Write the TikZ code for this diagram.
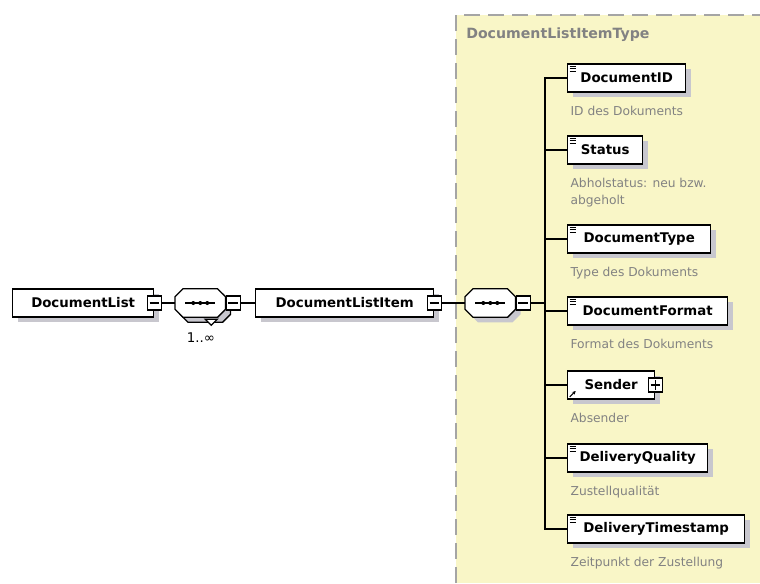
\documentclass[tikz,border=0pt]{standalone}
\usepackage{fontspec}
\setmainfont{DejaVu Sans}
\usetikzlibrary{arrows.meta,positioning,shadows}
\definecolor{panelgelb}{RGB}{249,246,199}
\definecolor{schatten}{RGB}{200,199,206}
\definecolor{textgrau}{RGB}{130,130,130}
\definecolor{rahmengrau}{RGB}{165,165,165}
\newcommand{\achteck}[1]{([xshift=6pt]#1.north west) -- ([xshift=-6pt]#1.north east) -- ([yshift=-6pt]#1.north east)
  -- ([yshift=6pt]#1.south east) -- ([xshift=-6pt]#1.south east) -- ([xshift=6pt]#1.south west)
  -- ([yshift=6pt]#1.south west) -- ([yshift=-6pt]#1.north west) -- cycle}
\tikzset{
  elem/.style={draw,line width=1pt,fill=white,anchor=west,inner sep=0pt,minimum height=21pt,
               font=\fontsize{10}{12}\selectfont\bfseries,
               drop shadow={shadow xshift=3.75pt,shadow yshift=-3.75pt,fill=schatten,opacity=1}},
  feld/.style={elem,path picture={
      \foreach \k in {1.5,3.4,5.3}
        \draw[line width=0.55pt] ([shift={(1.5pt,-\k pt)}]path picture bounding box.north west) -- ++(5pt,0);}},
  verweis/.style={elem,path picture={
      \draw[line width=0.8pt,-{Stealth[length=2.6pt,width=2.6pt]}]
        ([shift={(1.6pt,1.6pt)}]path picture bounding box.south west) -- ++(4.4pt,4.4pt);}},
  seq/.style={rectangle,anchor=west,inner sep=0pt,minimum width=37.5pt,minimum height=21pt},
  achteckrand/.style={line width=1pt,fill=white},
  seqschatten/.style={transform canvas={shift={(3.75pt,-3.75pt)}}},
  minus/.style={draw,line width=0.8pt,fill=white,inner sep=0pt,minimum size=10.5pt,path picture={
      \draw[line width=0.8pt] ([xshift=1.8pt]path picture bounding box.west) -- ([xshift=-1.8pt]path picture bounding box.east);}},
  plus/.style={minus,path picture={
      \draw[line width=0.8pt] ([xshift=1.8pt]path picture bounding box.west) -- ([xshift=-1.8pt]path picture bounding box.east);
      \draw[line width=0.8pt] ([yshift=1.8pt]path picture bounding box.south) -- ([yshift=-1.8pt]path picture bounding box.north);}},
  besch/.style={font=\fontsize{9.2}{12.75}\selectfont,text=textgrau,inner sep=0pt,align=left},
  kopf/.style={font=\fontsize{10.6}{12}\selectfont\bfseries,text=textgrau,inner sep=0pt,anchor=west},
  mult/.style={font=\fontsize{10}{12}\selectfont,inner sep=0pt},
  con/.style={line width=1pt},
}

\begin{document}
\begin{tikzpicture}[x=0.75pt,y=-0.75pt]
  \useasboundingbox (0,0) rectangle (760,583);
  % Typbereich
  \fill[panelgelb] (456,15) rectangle (760,583);
  \draw[rahmengrau,line width=1.4pt,dash pattern=on 12pt off 6pt] (456,583) -- (456,15) -- (760,15);
  \node[kopf] (typ) at (466,35) {DocumentListItemType};

  % linke Seite
  \node[elem,minimum width=105.75pt] (dl) at (12,303) {DocumentList};
  \node[minus] (dlm) at (dl.east) {};
  \node[seq] (s1) at (175,303) {};
  \draw[con,fill=schatten,seqschatten] \achteck{s1};
  \draw[achteckrand] \achteck{s1};
  \draw[con,fill=white] ([shift={(5,2)}]s1.south) -- ++(12,0) -- ++(-6,6) -- cycle;
  \node[minus,anchor=west] (s1m) at (s1.east) {};
  \node[mult] (anz) at (201,338) {1..∞};
  \node[elem,minimum width=133.5pt] (dli) at (255,303) {DocumentListItem};
  \node[minus] (dlim) at (dli.east) {};
  \node[seq] (s2) at (465,303) {};
  \fill[schatten,seqschatten] \achteck{s2};
  \draw[achteckrand] \achteck{s2};
  \node[minus,anchor=west] (s2m) at (s2.east) {};
  \coordinate (bus) at (545,303);

  % Elemente
  \node[feld,minimum width=88.5pt] (did) at (567,78) {DocumentID};
  \node[besch,below right=10pt and 2.5pt of did.south west] (didb) {ID des Dokuments};
  \node[feld,minimum width=56.25pt] (st) at (567,150) {Status};
  \node[besch,below right=10pt and 2.5pt of st.south west] (stb) {Abholstatus: neu bzw.\\abgeholt};
  \node[feld,minimum width=107.25pt] (dty) at (567,239) {DocumentType};
  \node[besch,below right=10pt and 2.5pt of dty.south west] (dtyb) {Type des Dokuments};
  \node[feld,minimum width=120pt] (dfo) at (567,311) {DocumentFormat};
  \node[besch,below right=10pt and 2.5pt of dfo.south west] (dfob) {Format des Dokuments};
  \node[verweis,minimum width=65.25pt] (snd) at (567,385) {Sender};
  \node[plus] (sndp) at (snd.east) {};
  \node[besch,below right=10pt and 2.5pt of snd.south west] (sndb) {Absender};
  \node[feld,minimum width=105pt] (dqu) at (567,458) {DeliveryQuality};
  \node[besch,below right=10pt and 2.5pt of dqu.south west] (dqub) {Zustellqualität};
  \node[feld,minimum width=132.75pt] (dts) at (567,529) {DeliveryTimestamp};
  \node[besch,below right=10pt and 2.5pt of dts.south west] (dtsb) {Zeitpunkt der Zustellung};

  % Verbindungen
  \draw[con] (dlm) -- (s1);
  \draw[con] (s1m) -- (dli);
  \draw[con] (dlim) -- (s2);
  \draw[con] (s2m) -- (bus);
  \draw[con] (did.west) -| (bus) |- (dts.west);
  \draw[con] (bus |- st.west) -- (st.west);
  \draw[con] (bus |- dty.west) -- (dty.west);
  \draw[con] (bus |- dfo.west) -- (dfo.west);
  \draw[con] (bus |- snd.west) -- (snd.west);
  \draw[con] (bus |- dqu.west) -- (dqu.west);

  % Punkte in den Sequenzen
  \draw[con] ([xshift=-11.25pt]s1.center) -- ([xshift=11.25pt]s1.center);
  \fill ([xshift=-5.25pt]s1.center) circle (1.5pt) (s1.center) circle (1.5pt) ([xshift=5.25pt]s1.center) circle (1.5pt);
  \draw[con] ([xshift=-11.25pt]s2.center) -- ([xshift=11.25pt]s2.center);
  \fill ([xshift=-5.25pt]s2.center) circle (1.5pt) (s2.center) circle (1.5pt) ([xshift=5.25pt]s2.center) circle (1.5pt);
\end{tikzpicture}
\end{document}
